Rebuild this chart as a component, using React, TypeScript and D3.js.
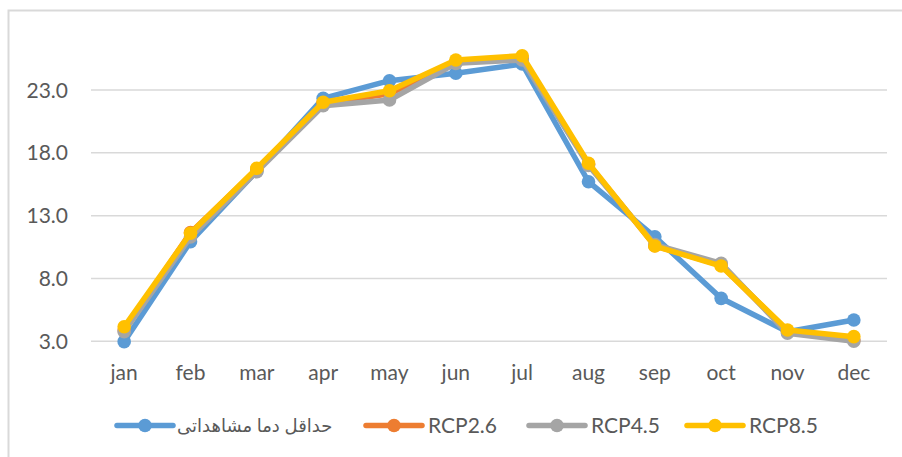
import * as d3 from "d3";
import { useEffect, useRef } from "react";

const months = ["jan", "feb", "mar", "apr", "may", "jun", "jul", "aug", "sep", "oct", "nov", "dec"];
const yTicks = [3, 8, 13, 18, 23];

const observed = [2.97, 10.93, 16.55, 22.34, 23.74, 24.33, 25.07, 15.7, 11.32, 6.42, 3.76, 4.7];
const rcp26 = [3.9, 11.65, 16.7, 21.95, 22.7, 25.2, 25.5, 17.1, 10.6, 9.05, 3.8, 3.1];
const rcp45 = [3.76, 11.3, 16.5, 21.75, 22.2, 25.12, 25.39, 17.0, 10.7, 9.2, 3.64, 3.0];
const rcp85 = [4.16, 11.6, 16.77, 22.02, 22.94, 25.39, 25.73, 17.17, 10.58, 8.99, 3.9, 3.37];

const seriesNames = ["حداقل دما مشاهداتی", "RCP2.6", "RCP4.5", "RCP8.5"];
const seriesColors = ["#5B9BD5", "#ED7D31", "#A5A5A5", "#FFC000"];

export default function App() {
  const svgRef = useRef<SVGSVGElement>(null);

  const width = 902;
  const height = 457;

  useEffect(() => {
    const svg = d3.select(svgRef.current);
    svg.selectAll("*").remove();

    const allSeries = [observed, rcp26, rcp45, rcp85];
    const font = "Lato, 'DejaVu Sans', sans-serif";
    const textColor = "#595959";

    // chart border (cut off on the right and bottom in the original)
    svg.append("rect")
      .attr("x", 8.5).attr("y", 10.5)
      .attr("width", 920).attr("height", 480)
      .attr("fill", "white")
      .attr("stroke", "#d9d9d9").attr("stroke-width", 2);

    const xScale = d3.scaleBand().domain(months).range([91, 887]).padding(0);
    const yScale = d3.scaleLinear().domain([3, 23]).range([341.3, 90]);
    const cx = (m: string) => (xScale(m) as number) + xScale.bandwidth() / 2;

    // gridlines
    svg.append("g").selectAll("line")
      .data(yTicks).enter().append("line")
      .attr("x1", 91).attr("x2", 887)
      .attr("y1", d => yScale(d)).attr("y2", d => yScale(d))
      .attr("stroke", "#d9d9d9").attr("stroke-width", 1.5);

    // y tick labels
    svg.append("g").selectAll("text")
      .data(yTicks).enter().append("text")
      .attr("x", 68).attr("y", d => yScale(d))
      .attr("dy", "0.36em")
      .attr("text-anchor", "end")
      .attr("font-family", font).attr("font-size", 21)
      .attr("fill", textColor)
      .text(d => d.toFixed(1));

    // x labels
    svg.append("g").selectAll("text")
      .data(months).enter().append("text")
      .attr("x", d => cx(d)).attr("y", 380)
      .attr("text-anchor", "middle")
      .attr("font-family", font).attr("font-size", 21)
      .attr("fill", textColor)
      .text(d => d);

    const line = d3.line<number>()
      .x((_, i) => cx(months[i]))
      .y(d => yScale(d));

    allSeries.forEach((vals, si) => {
      const g = svg.append("g");
      g.append("path")
        .datum(vals)
        .attr("d", line)
        .attr("fill", "none")
        .attr("stroke", seriesColors[si])
        .attr("stroke-width", 5.5)
        .attr("stroke-linejoin", "round")
        .attr("stroke-linecap", "round");
      g.selectAll("circle")
        .data(vals).enter().append("circle")
        .attr("cx", (_, i) => cx(months[i]))
        .attr("cy", d => yScale(d))
        .attr("r", 6.8)
        .attr("fill", seriesColors[si]);
    });

    // legend
    const legendY = 425.5;
    const legendX = [117, 366, 529, 687];
    const legend = svg.append("g").selectAll("g")
      .data(seriesNames).enter().append("g")
      .attr("transform", (_, i) => `translate(${legendX[i]},${legendY})`);
    legend.append("line")
      .attr("x1", 0).attr("x2", 56)
      .attr("stroke", (_, i) => seriesColors[i])
      .attr("stroke-width", 5.5)
      .attr("stroke-linecap", "round");
    legend.append("circle")
      .attr("cx", 28).attr("r", 6.8)
      .attr("fill", (_, i) => seriesColors[i]);
    legend.append("text")
      .attr("x", (_, i) => (i === 0 ? 60 : 62))
      .attr("dy", "0.36em")
      .attr("font-family", font)
      .attr("font-size", (_, i) => (i === 0 ? 18 : 21))
      .attr("fill", textColor)
      .text(d => d);
  }, []);

  return (
    <svg
      ref={svgRef}
      width={width}
      height={height}
      style={{ position: "absolute", left: 0, top: 0, background: "white" }}
    />
  );
}
